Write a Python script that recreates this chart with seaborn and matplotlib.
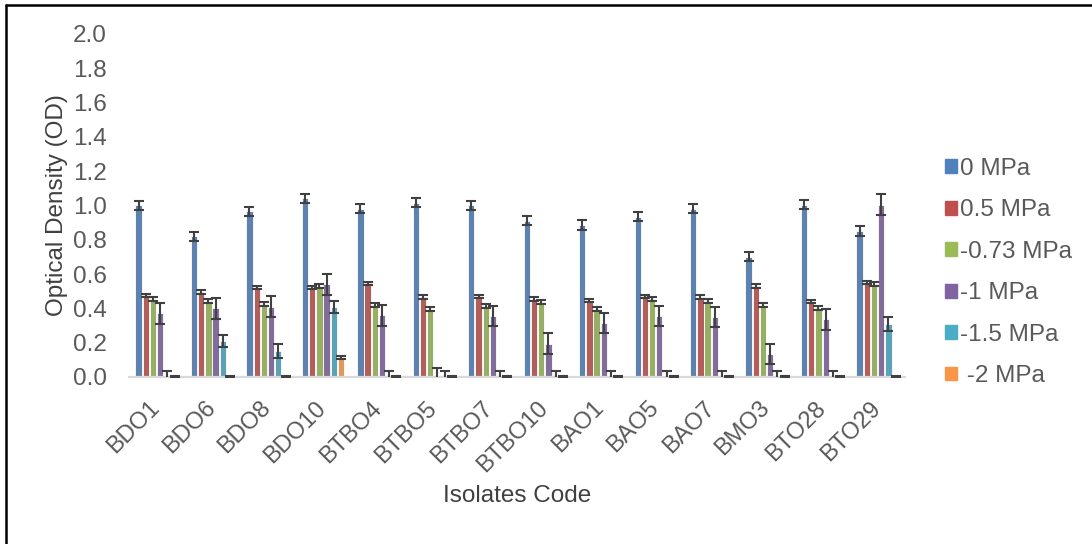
import numpy as np
import pandas as pd
import matplotlib
matplotlib.use("Agg")
import matplotlib.pyplot as plt
from matplotlib.lines import Line2D
import seaborn as sns

# Isolates and osmotic-stress treatments
isolates = ["BDO1", "BDO6", "BDO8", "BDO10", "BTBO4", "BTBO5", "BTBO7",
            "BTBO10", "BAO1", "BAO5", "BAO7", "BMO3", "BTO28", "BTO29"]
treatments = ["0 MPa", "0.5 MPa", "-0.73 MPa", "-1 MPa", "-1.5 MPa", " -2 MPa"]

# Mean optical density per treatment
od_0 = [1.00, 0.82, 0.965, 1.04, 0.98, 1.015, 1.00, 0.91, 0.885, 0.935, 0.98, 0.70, 1.005, 0.85]
od_05 = [0.475, 0.495, 0.52, 0.52, 0.545, 0.465, 0.47, 0.455, 0.445, 0.47, 0.465, 0.53, 0.44, 0.55]
od_073 = [0.455, 0.445, 0.425, 0.53, 0.42, 0.395, 0.415, 0.435, 0.395, 0.455, 0.445, 0.42, 0.40, 0.54]
od_1 = [0.37, 0.40, 0.41, 0.54, 0.36, 0.005, 0.355, 0.195, 0.315, 0.355, 0.35, 0.135, 0.335, 1.005]
od_15 = [0.005, 0.21, 0.15, 0.41, 0.005, 0.005, 0.005, 0.005, 0.005, 0.005, 0.005, 0.005, 0.005, 0.31]
od_2 = [0.003, 0.003, 0.003, 0.115, 0.003, 0.003, 0.003, 0.003, 0.003, 0.003, 0.003, 0.003, 0.003, 0.003]

# Standard errors
se_0 = [0.027] * 14
se_05 = [0.01] * 14
se_073 = [0.012] * 14
se_1 = [0.06, 0.06, 0.06, 0.06, 0.06, 0.05, 0.06, 0.06, 0.06, 0.06, 0.06, 0.06, 0.06, 0.06]
se_15 = [0.028, 0.037, 0.04, 0.035, 0.028, 0.028, 0.028, 0.028, 0.028, 0.028, 0.028, 0.028, 0.028, 0.04]
se_2 = [0.005, 0.005, 0.005, 0.01, 0.005, 0.005, 0.005, 0.005, 0.005, 0.005, 0.005, 0.005, 0.005, 0.005]

means = [od_0, od_05, od_073, od_1, od_15, od_2]
errors = [se_0, se_05, se_073, se_1, se_15, se_2]
colors = ["#4F81BD", "#C0504D", "#9BBB59", "#8064A2", "#4BACC6", "#F79646"]

df = pd.DataFrame({
    "Isolate": np.tile(isolates, len(treatments)),
    "Treatment": np.repeat(treatments, len(isolates)),
    "OD": np.concatenate(means),
})

sns.set_theme(style="white")
plt.rcParams["font.family"] = ["Liberation Sans", "DejaVu Sans"]
text_gray = "#595959"
fs = 17.5

fig = plt.figure(figsize=(10.92, 5.44), dpi=100)
ax = fig.add_axes([0.118, 0.307, 0.711, 0.631])

sns.barplot(data=df, x="Isolate", y="OD", hue="Treatment", order=isolates,
            hue_order=treatments, palette=colors, errorbar=None,
            width=0.78, gap=0.12, edgecolor="white", linewidth=0.6,
            legend=False, ax=ax)

# Error bars centred on each drawn bar
for cont, se in zip(ax.containers, errors):
    xs = [p.get_x() + p.get_width() / 2 for p in cont.patches]
    hs = [p.get_height() for p in cont.patches]
    ax.errorbar(xs, hs, yerr=se, fmt="none", ecolor="#404040",
                elinewidth=1.5, capsize=3.8, capthick=1.5, zorder=5)

ax.set_ylim(0, 2.0)
ticks = np.arange(0, 2.01, 0.2)
ax.set_yticks(ticks)
ax.set_yticklabels([f"{v:.1f}" for v in ticks])
ax.set_xlim(-0.5, len(isolates) - 0.5)

for s in ["top", "right", "left"]:
    ax.spines[s].set_visible(False)
ax.spines["bottom"].set_color("#D9D9D9")
ax.spines["bottom"].set_linewidth(1.6)
ax.tick_params(axis="y", length=0, labelsize=fs, labelcolor=text_gray, pad=16)
ax.tick_params(axis="x", length=0, labelsize=17, labelcolor=text_gray, pad=20)
plt.setp(ax.get_xticklabels(), rotation=45, ha="right", va="center",
         rotation_mode="anchor")

ax.set_ylabel("Optical Density (OD)", fontsize=fs, color="#404040", labelpad=3)
ax.set_xlabel("Isolates Code", fontsize=fs, color="#404040", labelpad=6)

handles = [plt.Rectangle((0, 0), 1, 1, color=c) for c in colors]
fig.legend(handles, treatments, loc="center left", bbox_to_anchor=(0.865, 0.499),
           frameon=False, fontsize=fs, labelcolor=text_gray,
           handlelength=0.5, handleheight=0.5, handletextpad=0.12,
           labelspacing=0.8, borderpad=0, borderaxespad=0)

# Frame lines along the left and top edges
fig.add_artist(Line2D([6 / 1092, 6 / 1092], [0, 1 - 5 / 544], color="black", lw=1.8))
fig.add_artist(Line2D([6 / 1092, 1], [1 - 5 / 544, 1 - 5 / 544], color="black", lw=1.8))

fig.savefig("out.png", dpi=100, facecolor="white")
